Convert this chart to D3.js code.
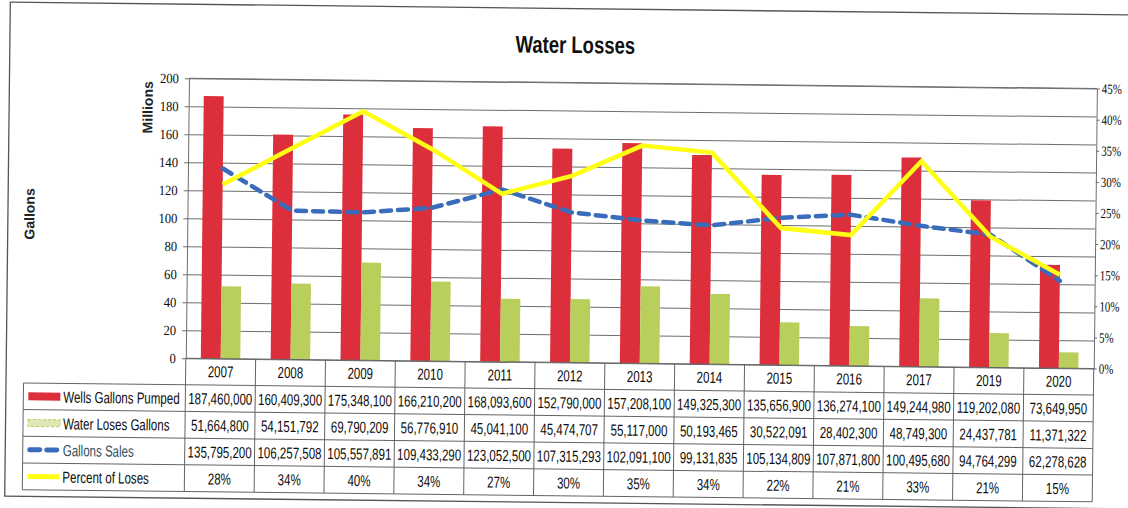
<!DOCTYPE html>
<html>
<head>
<meta charset="utf-8">
<script src="https://cdn.jsdelivr.net/npm/d3@7"></script>
<style>
  body { margin: 0; background: #fff; }
  svg { display: block; }
</style>
</head>
<body>
<div id="chart"></div>
<script>
const years = ['2007', '2008', '2009', '2010', '2011', '2012', '2013', '2014', '2015', '2016', '2017', '2019', '2020'];
const wellsPumped = [187460000, 160409300, 175348100, 166210200, 168093600, 152790000, 157208100, 149325300, 135656900, 136274100, 149244980, 119202080, 73649950];
const waterLoses = [51664800, 54151792, 69790209, 56776910, 45041100, 45474707, 55117000, 50193465, 30522091, 28402300, 48749300, 24437781, 11371322];
const gallonsSales = [135795200, 106257508, 105557891, 109433290, 123052500, 107315293, 102091100, 99131835, 105134809, 107871800, 100495680, 94764299, 62278628];
const percentLoses = [28, 34, 40, 34, 27, 30, 35, 34, 22, 21, 33, 21, 15];
const seriesNames = ['Wells Gallons Pumped', 'Water Loses Gallons', 'Gallons  Sales', 'Percent of Loses'];
const leftTicks = [0, 20, 40, 60, 80, 100, 120, 140, 160, 180, 200];
const rightTicks = [0, 5, 10, 15, 20, 25, 30, 35, 40, 45];

const W = 1128, H = 508;
const plot = { left: 187, right: 1095, top: 82.5, bottom: 362.5 };
const tableLeft = 25, headerBottom = 389, rowH = 26.7;

const red = '#dc2f3b', green = '#b8cf5c', blue = '#3a6cbc', yellow = '#ffff14';
const sans = '"Liberation Sans", Arial, sans-serif';
const serif = '"Liberation Serif", "DejaVu Serif", serif';
const squeeze = 0.72; // the scan's text is tall and narrow (Calibri-like)
const textColor = '#0d0d0d';

const svg = d3.select('#chart').append('svg')
  .attr('width', W)
  .attr('height', H);

// the scan is a little tilted, so everything sits in one rotated group
const g = svg.append('g')
  .attr('transform', `rotate(0.65, ${W / 2}, ${H / 2})`);

// outer frame of the chart
g.append('rect')
  .attr('x', 7.5).attr('y', 8.5)
  .attr('width', 1135).attr('height', 494)
  .attr('fill', 'none')
  .attr('stroke', '#555')
  .attr('stroke-width', 1.3);

const x = d3.scaleBand()
  .domain(years)
  .range([plot.left, plot.right])
  .padding(0);

const y = d3.scaleLinear()
  .domain([0, 200])
  .range([plot.bottom, plot.top]);

const yPct = d3.scaleLinear()
  .domain([0, 45])
  .range([plot.bottom, plot.top]);

const bw = x.bandwidth();

// grid lines
g.append('g')
  .attr('transform', `translate(${plot.left},0)`)
  .call(d3.axisLeft(y).tickValues(leftTicks).tickSize(-(plot.right - plot.left)).tickFormat(''))
  .call(s => s.select('.domain').remove())
  .selectAll('line')
  .attr('stroke', '#6e6e6e');

// left axis
const leftAxis = g.append('g')
  .attr('transform', `translate(${plot.left},0)`)
  .call(d3.axisLeft(y).tickValues(leftTicks).tickSize(4).tickSizeOuter(0));
leftAxis.attr('font-family', serif);
leftAxis.select('.domain').attr('stroke', '#6e6e6e');
leftAxis.selectAll('line').attr('stroke', '#6e6e6e');
leftAxis.selectAll('text')
  .attr('x', null)
  .attr('transform', 'translate(-10,0) scale(0.9,1)')
  .attr('font-family', serif)
  .attr('font-size', 14)
  .attr('fill', textColor);

// right axis (percent)
const rightAxis = g.append('g')
  .attr('transform', `translate(${plot.right},0)`)
  .call(d3.axisRight(yPct).tickValues(rightTicks).tickSize(3).tickSizeOuter(0).tickFormat(d => d + '%'));
rightAxis.attr('font-family', serif);
rightAxis.select('.domain').attr('stroke', '#6e6e6e');
rightAxis.selectAll('line').attr('stroke', '#6e6e6e');
rightAxis.selectAll('text')
  .attr('x', null)
  .attr('transform', 'translate(5,0) scale(0.78,1)')
  .attr('font-family', serif)
  .attr('font-size', 14)
  .attr('fill', textColor);

// top border of plot
g.append('line')
  .attr('x1', plot.left).attr('x2', plot.right)
  .attr('y1', plot.top).attr('y2', plot.top)
  .attr('stroke', '#6e6e6e');

// bars
g.selectAll('.wells')
  .data(years)
  .enter().append('rect')
  .attr('class', 'wells')
  .attr('x', d => x(d) + bw * 0.215)
  .attr('y', (d, i) => y(wellsPumped[i] / 1e6))
  .attr('width', bw * 0.285)
  .attr('height', (d, i) => plot.bottom - y(wellsPumped[i] / 1e6))
  .attr('fill', red);

g.selectAll('.loses')
  .data(years)
  .enter().append('rect')
  .attr('class', 'loses')
  .attr('x', d => x(d) + bw * 0.5)
  .attr('y', (d, i) => y(waterLoses[i] / 1e6))
  .attr('width', bw * 0.28)
  .attr('height', (d, i) => plot.bottom - y(waterLoses[i] / 1e6))
  .attr('fill', green);

// sales line (dashed, left axis)
const salesLine = d3.line()
  .x((d, i) => x(years[i]) + bw / 2)
  .y(d => y(d / 1e6));

g.append('path')
  .datum(gallonsSales)
  .attr('d', salesLine)
  .attr('fill', 'none')
  .attr('stroke', blue)
  .attr('stroke-width', 4.5)
  .attr('stroke-dasharray', '10,7')
  .attr('stroke-linecap', 'round');

// percent line (right axis)
const pctLine = d3.line()
  .x((d, i) => x(years[i]) + bw / 2)
  .y(d => yPct(d));

g.append('path')
  .datum(percentLoses)
  .attr('d', pctLine)
  .attr('fill', 'none')
  .attr('stroke', yellow)
  .attr('stroke-width', 4.5)
  .attr('stroke-linejoin', 'miter');

// title
g.append('text')
  .attr('transform', 'translate(573,53) scale(0.77,1)')
  .attr('text-anchor', 'middle')
  .attr('font-family', sans)
  .attr('font-weight', 'bold')
  .attr('font-size', 24)
  .attr('fill', '#111')
  .text('Water Losses');

// axis titles
g.append('text')
  .attr('transform', 'translate(146,112) rotate(-90)')
  .attr('text-anchor', 'middle')
  .attr('dominant-baseline', 'central')
  .attr('font-family', sans)
  .attr('font-weight', 'bold')
  .attr('font-size', 14)
  .attr('fill', '#222')
  .text('Millions');

g.append('text')
  .attr('transform', 'translate(29,220) rotate(-90)')
  .attr('text-anchor', 'middle')
  .attr('dominant-baseline', 'central')
  .attr('font-family', sans)
  .attr('font-weight', 'bold')
  .attr('font-size', 14)
  .attr('fill', '#222')
  .text('Gallons');

// data table
const table = g.append('g');
const rows = [wellsPumped, waterLoses, gallonsSales, percentLoses];
const tableBottom = headerBottom + rowH * rows.length;
const lineColor = '#646464';

// horizontal rules
table.append('line')
  .attr('x1', tableLeft).attr('x2', plot.right)
  .attr('y1', headerBottom).attr('y2', headerBottom)
  .attr('stroke', lineColor);
rows.forEach((r, i) => {
  table.append('line')
    .attr('x1', tableLeft).attr('x2', plot.right)
    .attr('y1', headerBottom + rowH * (i + 1)).attr('y2', headerBottom + rowH * (i + 1))
    .attr('stroke', lineColor);
});
table.append('line')
  .attr('x1', plot.left).attr('x2', plot.right)
  .attr('y1', plot.bottom).attr('y2', plot.bottom)
  .attr('stroke', lineColor);

// vertical rules
table.append('line')
  .attr('x1', tableLeft).attr('x2', tableLeft)
  .attr('y1', headerBottom).attr('y2', tableBottom)
  .attr('stroke', lineColor);
table.selectAll('.vrule')
  .data(years.concat(['end']))
  .enter().append('line')
  .attr('class', 'vrule')
  .attr('x1', d => d === 'end' ? plot.right : x(d))
  .attr('x2', d => d === 'end' ? plot.right : x(d))
  .attr('y1', plot.bottom)
  .attr('y2', tableBottom)
  .attr('stroke', lineColor);

// year header
table.selectAll('.year')
  .data(years)
  .enter().append('text')
  .attr('class', 'year')
  .attr('transform', d => `translate(${x(d) + bw / 2},${(plot.bottom + headerBottom) / 2 + 5.5}) scale(${squeeze},1)`)
  .attr('text-anchor', 'middle')
  .attr('font-family', sans)
  .attr('font-size', 16)
  .attr('fill', textColor)
  .text(d => d);

// cell values
const fmt = d3.format(',');
rows.forEach((r, ri) => {
  table.selectAll('.cell' + ri)
    .data(r)
    .enter().append('text')
    .attr('class', 'cell' + ri)
    .attr('transform', (d, i) => `translate(${x(years[i]) + bw / 2},${headerBottom + rowH * ri + rowH / 2 + 6}) scale(${squeeze},1)`)
    .attr('text-anchor', 'middle')
    .attr('font-family', sans)
    .attr('font-size', 16)
    .attr('fill', textColor)
    .text(d => ri === 3 ? d + '%' : fmt(d));
});

// row labels with legend keys
const keyX = 30, keyW = 32;
seriesNames.forEach((name, i) => {
  const cy = headerBottom + rowH * i + rowH / 2;
  if (i === 0) {
    table.append('rect').attr('x', keyX).attr('y', cy - 4).attr('width', keyW).attr('height', 8).attr('fill', red);
  } else if (i === 1) {
    table.append('rect').attr('x', keyX).attr('y', cy - 3.5).attr('width', keyW).attr('height', 7)
      .attr('fill', '#dfe8b4').attr('stroke', green).attr('stroke-dasharray', '3,2');
  } else if (i === 2) {
    table.append('line').attr('x1', keyX + 2).attr('x2', keyX + keyW - 2).attr('y1', cy).attr('y2', cy)
      .attr('stroke', blue).attr('stroke-width', 5).attr('stroke-dasharray', '10,7').attr('stroke-linecap', 'round');
  } else {
    table.append('line').attr('x1', keyX).attr('x2', keyX + keyW).attr('y1', cy).attr('y2', cy)
      .attr('stroke', yellow).attr('stroke-width', 5);
  }
  table.append('text')
    .attr('transform', `translate(${keyX + keyW + 3},${cy + 6}) scale(${squeeze},1)`)
    .attr('font-family', sans)
    .attr('font-size', 16)
    .attr('fill', i === 2 ? '#2f4f5f' : textColor)
    .text(name);
});
</script>
</body>
</html>
